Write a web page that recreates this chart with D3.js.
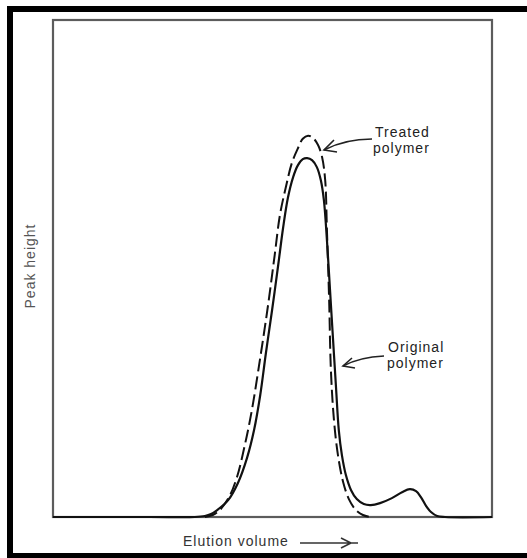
<!DOCTYPE html>
<html>
<head>
<meta charset="utf-8">
<script src="https://cdn.jsdelivr.net/npm/d3@7"></script>
<style>
  html, body { margin: 0; padding: 0; background: #fff; }
  svg { display: block; }
  text { font-family: "Liberation Sans", Arial, sans-serif; }
</style>
</head>
<body>
<svg id="chart" width="527" height="558"></svg>
<script>
// Gel permeation chromatogram: peak height vs elution volume (arbitrary units, 0-100)

// Original polymer trace (solid) — main peak plus the low-molecular-weight shoulder
const originalX = [0, 22.1, 32.3, 34.6, 36.0, 37.4, 39.9, 42.1, 44.2, 45.8, 47.2, 48.5, 49.9, 51.3, 52.4, 53.5,
  54.7, 55.8, 56.9, 57.9, 59.0, 60.1, 61.0, 61.7, 62.4, 63.1, 63.8, 64.5, 65.1, 65.8, 66.7, 67.9, 69.2, 70.8,
  72.4, 74.5, 77.2, 79.5, 81.3, 82.7, 83.8, 85.0, 86.1, 87.5, 89.3, 100];
const originalY = [0, 0, 0, 0.2, 0.6, 1.4, 3.4, 6.8, 11.9, 17.5, 24.5, 33.0, 41.6, 50.7, 58.1, 64.2,
  68.4, 70.8, 72.0, 72.2, 71.8, 70.4, 67.8, 63.8, 55.7, 45.7, 35.6, 25.6, 17.5, 12.5, 8.5, 5.4, 3.6, 2.6,
  2.4, 2.8, 3.8, 5.0, 5.6, 5.2, 4.0, 2.2, 1.0, 0.2, 0, 0];

// Treated polymer trace (dashed)
const treatedX = [34.6, 36.4, 38.0, 40.1, 41.9, 43.7, 45.3, 47.2, 49.0, 50.5, 51.7, 53.1, 54.4, 55.8, 56.9,
  58.1, 59.2, 60.4, 61.3, 62.0, 62.4, 62.9, 63.3, 64.0, 64.9, 66.1, 67.4, 69.0, 70.6, 72.2];
const treatedY = [0, 0.4, 1.4, 4.0, 8.0, 14.5, 21.5, 32.0, 42.7, 52.7, 60.8, 66.6, 71.2, 74.2, 76.1,
  76.7, 76.3, 74.8, 72.4, 67.8, 57.7, 43.7, 29.6, 19.5, 12.5, 7.0, 3.6, 1.4, 0.4, 0];

const xTitle = "Elution volume";
const yTitle = "Peak height";
const seriesLabels = [["Treated", "polymer"], ["Original", "polymer"]];

const svg = d3.select("#chart");

// Outer black frame (top, left, bottom bands)
svg.append("rect").attr("x", 7).attr("y", 6).attr("width", 520).attr("height", 6).attr("fill", "#000");
svg.append("rect").attr("x", 7).attr("y", 6).attr("width", 6).attr("height", 552).attr("fill", "#000");
svg.append("rect").attr("x", 7).attr("y", 553).attr("width", 520).attr("height", 5).attr("fill", "#000");

const x = d3.scaleLinear().domain([0, 100]).range([53, 492]);
const y = d3.scaleLinear().domain([0, 100]).range([517, 20]);

// Plot box
svg.append("rect")
  .attr("x", x(0)).attr("y", y(100))
  .attr("width", x(100) - x(0)).attr("height", y(0) - y(100))
  .attr("fill", "none").attr("stroke", "#5c5c5c").attr("stroke-width", 2.2);

const line = d3.line()
  .x(d => x(d[0]))
  .y(d => y(d[1]))
  .curve(d3.curveCatmullRom.alpha(0.5));

const original = d3.zip(originalX, originalY);
const treated = d3.zip(treatedX, treatedY);

svg.append("path")
  .datum(treated)
  .attr("d", line)
  .attr("fill", "none")
  .attr("stroke", "#111")
  .attr("stroke-width", 2)
  .attr("stroke-dasharray", "13,5");

svg.append("path")
  .datum(original)
  .attr("d", line)
  .attr("fill", "none")
  .attr("stroke", "#111")
  .attr("stroke-width", 2.2);

// Series labels with pointer arrows
const lab = svg.append("g").attr("fill", "#222").attr("font-size", 14).attr("letter-spacing", 1);
lab.append("text").attr("x", 375).attr("y", 137).text(seriesLabels[0][0]);
lab.append("text").attr("x", 373).attr("y", 153).text(seriesLabels[0][1]);
lab.append("text").attr("x", 388).attr("y", 352).text(seriesLabels[1][0]);
lab.append("text").attr("x", 387).attr("y", 368).text(seriesLabels[1][1]);

const arrows = svg.append("g").attr("fill", "none").attr("stroke", "#222").attr("stroke-width", 1.6);
// Treated pointer
arrows.append("path").attr("d", "M372,139 Q345,139 324,150");
arrows.append("path").attr("d", "M334,140 L324,150 L337,152");
// Original pointer
arrows.append("path").attr("d", "M384,356 Q360,357 343,366");
arrows.append("path").attr("d", "M352,358 L343,366 L355,368");

// Axis titles
svg.append("text")
  .attr("x", 183).attr("y", 546)
  .attr("font-size", 14).attr("letter-spacing", 1).attr("fill", "#333")
  .text(xTitle);
svg.append("path")
  .attr("d", "M300,543 L358,543 M341,538 L351,543 L341,548")
  .attr("fill", "none").attr("stroke", "#333").attr("stroke-width", 1.6);

svg.append("text")
  .attr("transform", "translate(35,266) rotate(-90)")
  .attr("text-anchor", "middle")
  .attr("font-size", 14).attr("letter-spacing", 1).attr("fill", "#555")
  .text(yTitle);
</script>
</body>
</html>
